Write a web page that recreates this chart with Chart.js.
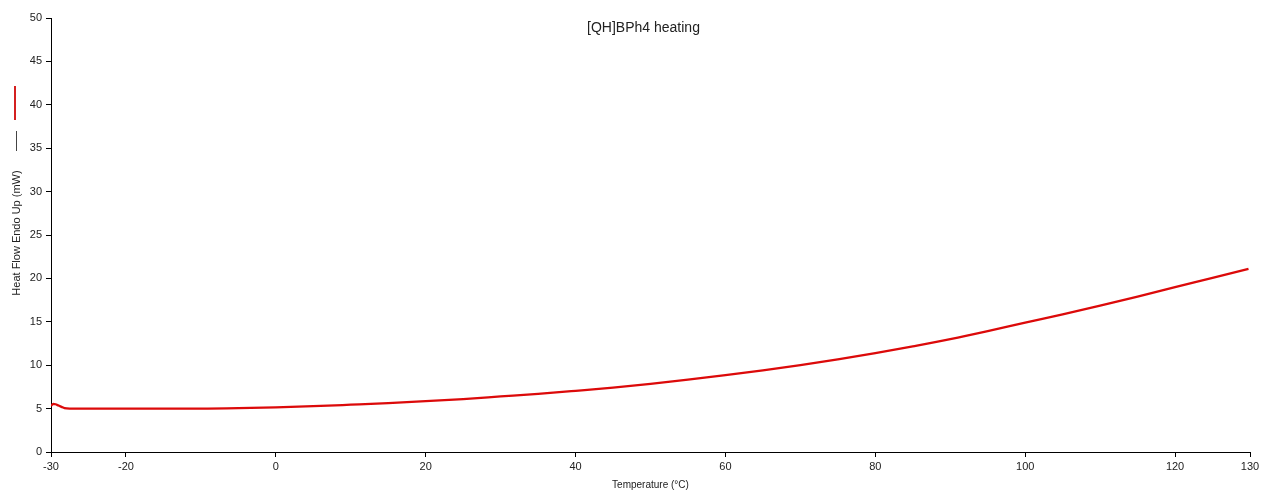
<!DOCTYPE html>
<html>
<head>
<meta charset="utf-8">
<script src="https://cdn.jsdelivr.net/npm/chart.js@4"></script>
<style>
html,body{margin:0;padding:0;background:#fff;}
#wrap{width:1264px;height:491px;position:relative;}
</style>
</head>
<body>
<div id="wrap"><canvas id="c"></canvas></div>
<script>
const chartTitle = "[QH]BPh4 heating";
const xAxisTitle = "Temperature (°C)";
const yAxisTitle = "Heat Flow Endo Up (mW)";
const temperatures = [-30, -29.7, -29.4, -29, -28.6, -28.2, -27.5, -25, -20, -15, -10, -5, 0, 5, 10, 15, 20, 25, 30, 35, 40, 45, 50, 55, 60, 65, 70, 75, 80, 85, 90, 95, 100, 105, 110, 115, 120, 125, 129.8];
const heatFlow     = [5.3, 5.55, 5.5, 5.35, 5.2, 5.05, 5.0, 5.0, 5.0, 5.0, 5.0, 5.05, 5.15, 5.28, 5.45, 5.63, 5.85, 6.1, 6.4, 6.7, 7.05, 7.42, 7.85, 8.33, 8.85, 9.4, 10.0, 10.68, 11.4, 12.18, 13.0, 13.92, 14.9, 15.85, 16.85, 17.9, 19.0, 20.05, 21.1];
const xTicks = [-30, -20, 0, 20, 40, 60, 80, 100, 120, 130];
const yTicks = [0, 5, 10, 15, 20, 25, 30, 35, 40, 45, 50];

const points = temperatures.map((t, i) => ({x: t, y: heatFlow[i]}));
const FONT = "'Liberation Sans', Arial, sans-serif";

const decor = {
  id: 'decor',
  afterDraw(chart) {
    const ctx = chart.ctx;
    const ca = chart.chartArea;
    ctx.save();
    ctx.fillStyle = '#222';
    ctx.font = '14px ' + FONT;
    ctx.textAlign = 'center';
    ctx.textBaseline = 'middle';
    ctx.fillText(chartTitle, (ca.left + ca.right) / 2 - 7, ca.top + 10);
    // rotated y axis title
    ctx.save();
    ctx.translate(17, 233);
    ctx.rotate(-Math.PI / 2);
    ctx.font = '11px ' + FONT;
    ctx.fillText(yAxisTitle, 0, 0);
    ctx.restore();
    // legend-like marks beside y axis title
    ctx.lineWidth = 2;
    ctx.strokeStyle = '#d42020';
    ctx.beginPath(); ctx.moveTo(15, 86); ctx.lineTo(15, 120); ctx.stroke();
    ctx.lineWidth = 1;
    ctx.strokeStyle = '#444';
    ctx.beginPath(); ctx.moveTo(16.5, 131); ctx.lineTo(16.5, 151); ctx.stroke();
    ctx.restore();
  }
};

new Chart(document.getElementById('c'), {
  type: 'scatter',
  data: {
    datasets: [{
      data: points,
      showLine: true,
      borderColor: '#dc0a0a',
      backgroundColor: '#dc0a0a',
      borderWidth: 2.3,
      pointRadius: 0,
      tension: 0.3,
      cubicInterpolationMode: 'monotone'
    }]
  },
  options: {
    responsive: true,
    maintainAspectRatio: false,
    animation: false,
    layout: {padding: {top: 18, right: 14, left: 0, bottom: 0}},
    plugins: {legend: {display: false}, tooltip: {enabled: false}},
    scales: {
      x: {
        type: 'linear',
        min: -30, max: 130,
        afterBuildTicks(s) { s.ticks = xTicks.map(v => ({value: v})); },
        afterFit(s) { s.height = 39; },
        grid: {display: true, drawOnChartArea: false, drawTicks: true, tickLength: 5, color: '#000'},
        border: {color: '#000', width: 1},
        ticks: {color: '#222', font: {family: FONT, size: 11}, padding: 3, maxRotation: 0, autoSkip: false},
        title: {display: true, text: xAxisTitle, color: '#222', font: {family: FONT, size: 10}, padding: {top: 0, bottom: 0}}
      },
      y: {
        min: 0, max: 50,
        afterBuildTicks(s) { s.ticks = yTicks.map(v => ({value: v})); },
        afterFit(s) { s.width = 51; },
        grid: {display: true, drawOnChartArea: false, drawTicks: true, tickLength: 5, color: '#000'},
        border: {color: '#000', width: 1},
        ticks: {color: '#222', font: {family: FONT, size: 11}, padding: 4, autoSkip: false},
        title: {display: false}
      }
    }
  },
  plugins: [decor]
});
</script>
</body>
</html>
